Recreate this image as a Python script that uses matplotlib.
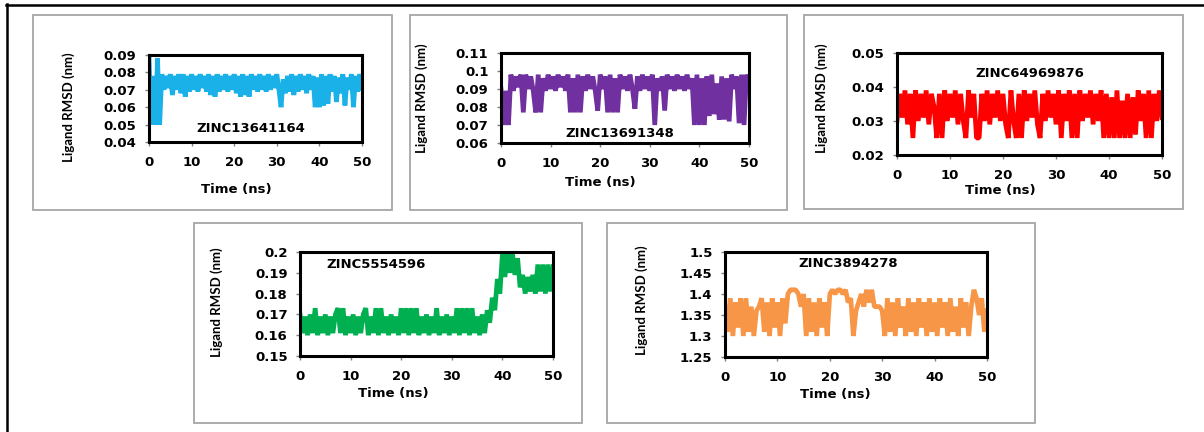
import numpy as np
import matplotlib
matplotlib.use('Agg')
import matplotlib.pyplot as plt
from matplotlib.patches import Rectangle
from matplotlib.lines import Line2D
from matplotlib.ticker import FuncFormatter

# time axis (ns), one frame every 0.5 ns
time = np.arange(0, 50.5, 0.5)

zinc13641164 = [0.090, 0.050, 0.078, 0.050, 0.088, 0.050, 0.079, 0.070, 0.078, 0.071,
                0.079, 0.067, 0.078, 0.070, 0.079, 0.068, 0.079, 0.066, 0.078, 0.069,
                0.079, 0.070, 0.078, 0.069, 0.079, 0.071, 0.078, 0.069, 0.079, 0.067,
                0.078, 0.066, 0.079, 0.069, 0.078, 0.070, 0.079, 0.069, 0.078, 0.070,
                0.079, 0.068, 0.078, 0.066, 0.079, 0.067, 0.078, 0.066, 0.079, 0.070,
                0.078, 0.069, 0.079, 0.070, 0.078, 0.069, 0.079, 0.070, 0.078, 0.071,
                0.079, 0.070, 0.060, 0.076, 0.068, 0.078, 0.069, 0.079, 0.067, 0.078,
                0.069, 0.079, 0.070, 0.078, 0.068, 0.079, 0.070, 0.078, 0.060, 0.077,
                0.060, 0.079, 0.061, 0.078, 0.062, 0.079, 0.069, 0.078, 0.063, 0.077,
                0.068, 0.079, 0.061, 0.077, 0.070, 0.079, 0.060, 0.078, 0.069, 0.079,
                0.071]

zinc13691348 = [0.090, 0.070, 0.089, 0.070, 0.098, 0.089, 0.097, 0.091, 0.098, 0.077,
                0.098, 0.090, 0.097, 0.089, 0.077, 0.098, 0.077, 0.096, 0.089, 0.098,
                0.090, 0.097, 0.089, 0.098, 0.091, 0.097, 0.089, 0.098, 0.077, 0.096,
                0.077, 0.098, 0.077, 0.097, 0.089, 0.098, 0.090, 0.097, 0.089, 0.078,
                0.098, 0.090, 0.097, 0.077, 0.098, 0.077, 0.096, 0.077, 0.098, 0.090,
                0.097, 0.089, 0.098, 0.090, 0.079, 0.097, 0.089, 0.098, 0.090, 0.097,
                0.089, 0.098, 0.070, 0.096, 0.089, 0.097, 0.078, 0.098, 0.090, 0.097,
                0.089, 0.098, 0.090, 0.097, 0.089, 0.098, 0.090, 0.096, 0.070, 0.098,
                0.070, 0.096, 0.070, 0.097, 0.075, 0.098, 0.076, 0.093, 0.073, 0.097,
                0.073, 0.096, 0.072, 0.098, 0.090, 0.097, 0.071, 0.098, 0.070, 0.098,
                0.090]

zinc64969876 = [0.030, 0.038, 0.031, 0.039, 0.029, 0.038, 0.025, 0.039, 0.030, 0.038,
                0.031, 0.039, 0.029, 0.038, 0.034, 0.025, 0.038, 0.025, 0.039, 0.030,
                0.038, 0.031, 0.039, 0.029, 0.038, 0.030, 0.025, 0.039, 0.031, 0.038,
                0.025, 0.025, 0.038, 0.030, 0.039, 0.029, 0.038, 0.031, 0.039, 0.030,
                0.038, 0.029, 0.025, 0.039, 0.030, 0.025, 0.038, 0.025, 0.039, 0.030,
                0.038, 0.031, 0.039, 0.029, 0.025, 0.038, 0.030, 0.039, 0.031, 0.038,
                0.029, 0.039, 0.025, 0.038, 0.030, 0.039, 0.025, 0.038, 0.025, 0.039,
                0.030, 0.038, 0.031, 0.039, 0.029, 0.038, 0.030, 0.039, 0.025, 0.038,
                0.025, 0.037, 0.025, 0.039, 0.025, 0.036, 0.025, 0.038, 0.025, 0.037,
                0.026, 0.039, 0.030, 0.038, 0.025, 0.039, 0.025, 0.038, 0.030, 0.039,
                0.031]

zinc5554596 = [0.170, 0.161, 0.169, 0.160, 0.170, 0.161, 0.173, 0.160, 0.169, 0.161,
               0.170, 0.160, 0.169, 0.161, 0.170, 0.173, 0.161, 0.173, 0.160, 0.169,
               0.161, 0.170, 0.160, 0.169, 0.161, 0.170, 0.173, 0.160, 0.169, 0.161,
               0.173, 0.160, 0.173, 0.161, 0.169, 0.160, 0.170, 0.161, 0.169, 0.160,
               0.173, 0.161, 0.173, 0.160, 0.173, 0.161, 0.173, 0.160, 0.169, 0.161,
               0.170, 0.160, 0.169, 0.161, 0.173, 0.160, 0.169, 0.161, 0.170, 0.160,
               0.169, 0.161, 0.173, 0.160, 0.173, 0.161, 0.173, 0.160, 0.173, 0.161,
               0.169, 0.160, 0.170, 0.161, 0.172, 0.166, 0.178, 0.172, 0.187, 0.180,
               0.199, 0.188, 0.200, 0.190, 0.199, 0.189, 0.197, 0.183, 0.189, 0.180,
               0.188, 0.181, 0.189, 0.180, 0.194, 0.181, 0.194, 0.180, 0.194, 0.181,
               0.193]

zinc3894278 = [1.37, 1.31, 1.39, 1.30, 1.38, 1.32, 1.39, 1.30, 1.39, 1.31,
               1.37, 1.30, 1.36, 1.37, 1.39, 1.31, 1.38, 1.30, 1.39, 1.32,
               1.38, 1.30, 1.39, 1.33, 1.40, 1.41, 1.41, 1.41, 1.40, 1.37,
               1.40, 1.30, 1.39, 1.31, 1.38, 1.30, 1.39, 1.32, 1.38, 1.30,
               1.40, 1.41, 1.40, 1.41, 1.41, 1.40, 1.41, 1.38, 1.39, 1.30,
               1.36, 1.38, 1.40, 1.37, 1.41, 1.38, 1.41, 1.37, 1.37, 1.37,
               1.36, 1.30, 1.39, 1.31, 1.38, 1.30, 1.39, 1.32, 1.37, 1.30,
               1.39, 1.31, 1.38, 1.30, 1.39, 1.32, 1.38, 1.30, 1.39, 1.31,
               1.38, 1.30, 1.39, 1.32, 1.38, 1.30, 1.39, 1.31, 1.37, 1.30,
               1.39, 1.32, 1.38, 1.30, 1.37, 1.41, 1.39, 1.35, 1.39, 1.31,
               1.36]

names = ['ZINC13641164', 'ZINC13691348', 'ZINC64969876', 'ZINC5554596', 'ZINC3894278']
series = [zinc13641164, zinc13691348, zinc64969876, zinc5554596, zinc3894278]
colors = ['#1AB0E8', '#7030A0', '#FF0000', '#00B050', '#F79646']
y_limits = [(0.04, 0.09), (0.06, 0.11), (0.02, 0.05), (0.15, 0.2), (1.25, 1.5)]
y_steps = [0.01, 0.01, 0.01, 0.01, 0.05]
x_ticks = [0, 10, 20, 30, 40, 50]

W, H = 1204, 432
fig = plt.figure(figsize=(W / 100, H / 100), dpi=100)

def fx(px):
    return px / W

def fy(py):
    return 1 - py / H

# gray frame around each panel (left, top, right, bottom in pixels)
boxes = [(33, 15, 392, 210), (410, 15, 787, 210), (804, 15, 1183, 209),
         (194, 223, 582, 423), (607, 223, 1035, 423)]
# plot area of each panel (left, top, right, bottom in pixels)
areas = [(149, 55, 362, 142), (501, 53, 749, 143), (897, 53, 1162, 155),
         (300, 252, 553, 356), (725, 252, 987, 357)]
title_pos = [(0.48, 0.15), (0.48, 0.11), (0.50, 0.80), (0.30, 0.875), (0.47, 0.895)]
xlabel_pos = [(0.41, -0.55), (0.40, -0.44), (0.39, -0.345), (0.37, -0.36), (0.42, -0.355)]
ylabel_pos = [(-0.376, 0.40), (-0.32, 0.50), (-0.283, 0.56), (-0.33, 0.52), (-0.32, 0.54)]

for b in boxes:
    l, t, r, bt = b
    fig.add_artist(Rectangle((fx(l), fy(bt)), fx(r) - fx(l), fy(t) - fy(bt),
                             transform=fig.transFigure, fill=False,
                             edgecolor='#A6A6A6', linewidth=1.3))

# outer black border (top and left only)
fig.add_artist(Line2D([fx(6), 1], [fy(4.5), fy(4.5)], transform=fig.transFigure, color='black', lw=1.8))
fig.add_artist(Line2D([fx(6.5), fx(6.5)], [fy(4), 0], transform=fig.transFigure, color='black', lw=1.8))

def fmt(v, pos):
    return f'{v:.3f}'.rstrip('0').rstrip('.')

for i in range(5):
    l, t, r, bt = areas[i]
    ax = fig.add_axes([fx(l), fy(bt), fx(r) - fx(l), fy(t) - fy(bt)])
    ax.plot(time, series[i], color=colors[i], lw=3.4, solid_joinstyle='bevel')
    ax.set_xlim(0, 50)
    ax.set_ylim(*y_limits[i])
    lo, hi = y_limits[i]
    ax.set_yticks(np.arange(lo, hi + y_steps[i] / 2, y_steps[i]))
    ax.set_xticks(x_ticks)
    ax.yaxis.set_major_formatter(FuncFormatter(fmt))
    for s in ax.spines.values():
        s.set_linewidth(2.2)
        s.set_color('black')
    ax.tick_params(axis='both', direction='out', length=3, width=1, color='#808080',
                   labelsize=9.5)
    ax.tick_params(axis='x', pad=7)
    ax.tick_params(axis='y', pad=6)
    for lab in ax.get_xticklabels() + ax.get_yticklabels():
        lab.set_fontweight('bold')
        lab.set_family('DejaVu Sans')
    ax.text(title_pos[i][0], title_pos[i][1], names[i], transform=ax.transAxes,
            ha='center', va='center', fontsize=9.5, fontweight='bold', family='DejaVu Sans')
    ax.set_xlabel('Time (ns)', fontsize=9.5, fontweight='bold', family='DejaVu Sans')
    ax.xaxis.set_label_coords(*xlabel_pos[i])
    ax.xaxis.label.set_va('center')
    ax.set_ylabel('Ligand RMSD (nm)', fontsize=9.5, fontweight='bold', family=['Lato', 'DejaVu Sans'])
    ax.yaxis.set_label_coords(*ylabel_pos[i])
    ax.yaxis.label.set_va('center')

fig.savefig('out.png', dpi=100)
